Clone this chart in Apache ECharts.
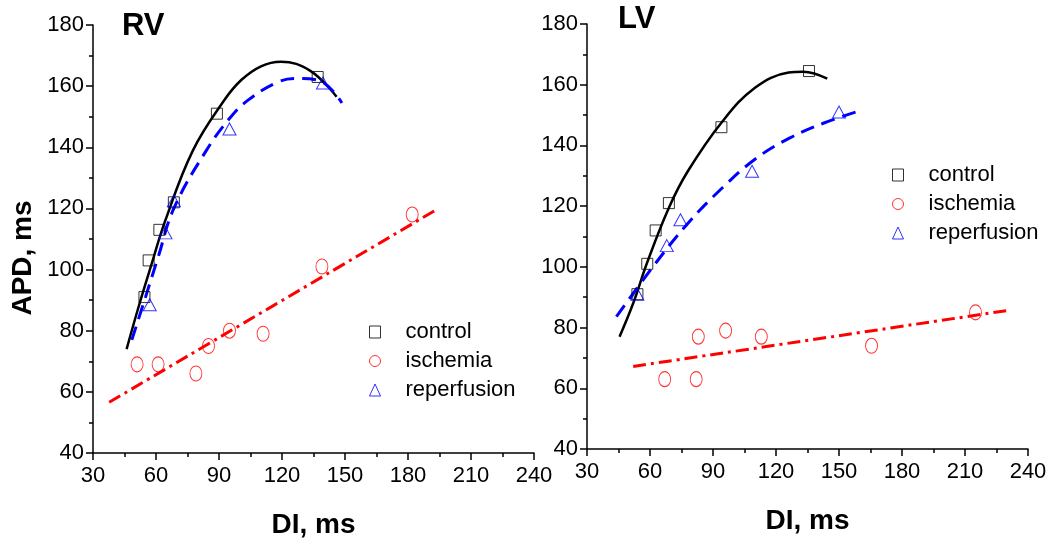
<!DOCTYPE html>
<html>
<head>
<meta charset="utf-8">
<script src="https://cdn.jsdelivr.net/npm/echarts@6/dist/echarts.min.js"></script>
<style>
html,body{margin:0;padding:0;background:#fff;}
#chart{width:1050px;height:539px;}
</style>
</head>
<body>
<div id="chart"></div>
<script>
// ---- axis settings ----
const xMin = 30, xMax = 240, xStep = 30;
const yMin = 40, yMax = 180, yStep = 20;
const legendNames = ['control', 'ischemia', 'reperfusion'];
const panelTitles = ['RV', 'LV'];
const xAxisTitle = 'DI, ms';
const yAxisTitle = 'APD, ms';

// ---- RV data [DI, APD] ----
const rvControl = [[54.5, 91], [56.5, 103], [61.6, 113], [68.5, 122], [89, 151], [137, 163]];
const rvIschemia = [[51, 69], [61, 69], [79, 66], [85, 75], [95, 80], [111, 79], [139, 101], [182, 118]];
const rvReperfusion = [[57, 88.5], [64.5, 112], [68.5, 122.5], [95, 146], [139.5, 161]];
const rvControlFit = [[46, 74], [52, 88.5], [58, 102], [64.4, 116], [77.6, 139], [92.4, 155.3], [100.6, 162], [110, 166.5], [119.5, 168], [133.5, 165], [146, 156.5]];
const rvIschemiaFit = [[37.7, 56.6], [194.5, 120]];
const rvReperfusionFit = [[48.5, 77], [55, 91], [61, 104], [68.5, 120], [84, 139], [95.7, 150], [104, 155.5], [117, 161], [126, 162.5], [137, 162], [148.5, 154.5]];

// ---- LV data [DI, APD] ----
const lvControl = [[54, 91], [58.7, 101], [62.7, 112], [69, 121], [94, 146], [135.7, 164.5]];
const lvIschemia = [[67, 63], [82, 63], [83, 77], [96, 79], [113, 77], [165.5, 74], [215, 85]];
const lvReperfusion = [[54, 91], [68, 107], [74.5, 115.5], [108.6, 131.5], [150, 151]];
const lvControlFit = [[45.5, 77], [52, 88], [58.7, 101.5], [69, 119.5], [78, 131.5], [94, 147.5], [110, 159], [126, 164], [133, 164.3], [144.4, 162]];
const lvIschemiaFit = [[52, 67.2], [230, 85.6]];
const lvReperfusionFit = [[44, 83.6], [61.9, 100.5], [78, 114.3], [94.1, 125.8], [110.3, 135.6], [126.4, 142.4], [142.5, 147.3], [159.4, 151.3]];

const FONT = '"Liberation Sans", Arial, Helvetica, sans-serif';
const BLACK = '#000000', RED = '#ff0000', BLUE = '#0000ff';

function xAxisFor(gi) {
  return {
    type: 'value', gridIndex: gi, min: xMin, max: xMax, interval: xStep,
    name: xAxisTitle, nameLocation: 'middle', nameGap: 58,
    nameTextStyle: {fontFamily: FONT, fontSize: 28, fontWeight: 'bold', color: '#000'},
    axisLine: {show: true, onZero: false, lineStyle: {color: '#000', width: 1.5}},
    axisTick: {show: true, inside: false, length: 7, lineStyle: {color: '#000', width: 1.5}},
    minorTick: {show: true, splitNumber: 2, length: 4, lineStyle: {color: '#000', width: 1.5}},
    splitLine: {show: false},
    axisLabel: {fontFamily: FONT, fontSize: 22, color: '#000', margin: 12}
  };
}
function yAxisFor(gi) {
  return {
    type: 'value', gridIndex: gi, min: yMin, max: yMax, interval: yStep,
    axisLine: {show: true, onZero: false, lineStyle: {color: '#000', width: 1.5}},
    axisTick: {show: true, inside: false, length: 7, lineStyle: {color: '#000', width: 1.5}},
    minorTick: {show: true, splitNumber: 2, length: 4, lineStyle: {color: '#000', width: 1.5}},
    splitLine: {show: false},
    axisLabel: {fontFamily: FONT, fontSize: 22, color: '#000', margin: 9}
  };
}
function scatter(name, gi, data, symbol, size, color) {
  return {
    name: name, type: 'scatter', xAxisIndex: gi, yAxisIndex: gi, data: data,
    symbol: symbol, symbolSize: size, z: 3,
    itemStyle: {color: 'rgba(0,0,0,0)', borderColor: color, borderWidth: 1}
  };
}
function fit(name, gi, data, color, type, width) {
  return {
    name: name, type: 'line', xAxisIndex: gi, yAxisIndex: gi, data: data,
    showSymbol: false, symbol: 'none', smooth: 0.4, z: 2,
    lineStyle: {color: color, width: width, type: type}
  };
}
function legendFor(left, top) {
  return {
    orient: 'vertical', left: left, top: top, padding: 0, itemGap: 7,
    itemWidth: 11, itemHeight: 12,
    textStyle: {fontFamily: FONT, fontSize: 22, color: '#000', padding: [0, 0, 0, 20]},
    data: [
      {name: legendNames[0], icon: 'rect', itemStyle: {color: 'rgba(0,0,0,0)', borderColor: BLACK, borderWidth: 1}},
      {name: legendNames[1], icon: 'circle', itemStyle: {color: 'rgba(0,0,0,0)', borderColor: RED, borderWidth: 1}},
      {name: legendNames[2], icon: 'triangle', itemStyle: {color: 'rgba(0,0,0,0)', borderColor: BLUE, borderWidth: 1}}
    ]
  };
}

const chart = echarts.init(document.getElementById('chart'), null, {renderer: 'canvas'});
const dash = [14, 8];
const dashDot = [13, 5, 3, 5];
chart.setOption({
  animation: false,
  backgroundColor: '#fff',
  grid: [
    {left: 93, top: 25, width: 441, height: 428, containLabel: false, outerBoundsMode: 'none'},
    {left: 587, top: 24, width: 441, height: 425, containLabel: false, outerBoundsMode: 'none'}
  ],
  xAxis: [xAxisFor(0), xAxisFor(1)],
  yAxis: [yAxisFor(0), yAxisFor(1)],
  legend: [legendFor(369, 321), legendFor(892, 164)],
  graphic: [
    {type: 'text', left: 122, top: 11, style: {text: panelTitles[0], font: 'bold 31px ' + FONT, fill: '#000'}},
    {type: 'text', left: 618, top: 4, style: {text: panelTitles[1], font: 'bold 31px ' + FONT, fill: '#000'}},
    {type: 'text', x: 23, y: 258, rotation: Math.PI / 2,
     style: {text: yAxisTitle, font: 'bold 28px ' + FONT, fill: '#000', align: 'center', verticalAlign: 'middle'}}
  ],
  series: [
    fit('control fit RV', 0, rvControlFit, BLACK, 'solid', 2.5),
    fit('ischemia fit RV', 0, rvIschemiaFit, RED, dashDot, 3),
    fit('reperfusion fit RV', 0, rvReperfusionFit, BLUE, dash, 3),
    scatter(legendNames[0], 0, rvControl, 'rect', 11, BLACK),
    scatter(legendNames[1], 0, rvIschemia, 'circle', [12, 15], RED),
    scatter(legendNames[2], 0, rvReperfusion, 'triangle', [13, 12], BLUE),
    fit('control fit LV', 1, lvControlFit, BLACK, 'solid', 2.5),
    fit('ischemia fit LV', 1, lvIschemiaFit, RED, dashDot, 3),
    fit('reperfusion fit LV', 1, lvReperfusionFit, BLUE, dash, 3),
    scatter(legendNames[0], 1, lvControl, 'rect', 11, BLACK),
    scatter(legendNames[1], 1, lvIschemia, 'circle', [12, 15], RED),
    scatter(legendNames[2], 1, lvReperfusion, 'triangle', [13, 12], BLUE)
  ]
});
</script>
</body>
</html>
